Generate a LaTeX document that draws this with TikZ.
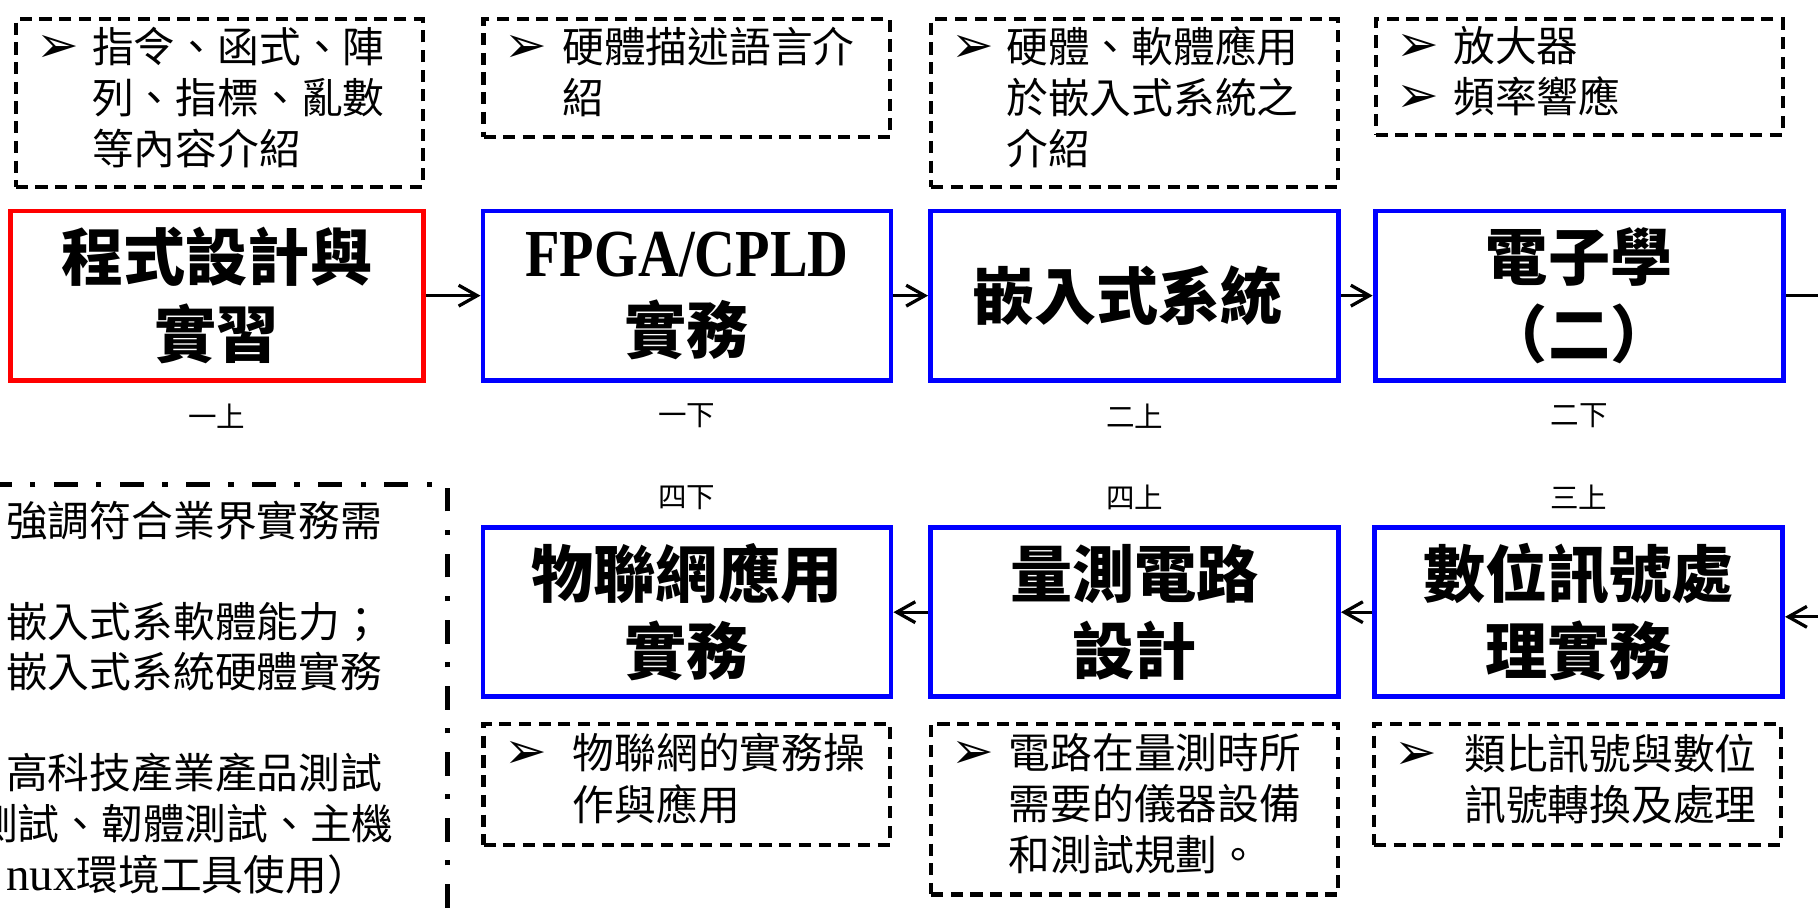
\documentclass[tikz,border=0pt]{standalone}
\usepackage{fontspec}
\setmainfont{Noto Sans CJK TC}
\newfontfamily\symfont{DejaVu Sans}
\newfontfamily\latinfont{Liberation Serif}
\usepackage{graphicx}
\usetikzlibrary{arrows.meta,positioning}

\newcommand{\bul}{{\symfont\fontsize{25}{25}\selectfont ➢}}
\newcommand{\notelines}[2][0.96cm]{\hspace*{0.36cm}\begin{tabular}{@{}p{#1}@{}l@{}}#2\end{tabular}}

\begin{document}
\begin{tikzpicture}[x=0.02cm, y=-0.02cm,
    every node/.style={inner sep=0pt},
    course/.style={
        rectangle,
        draw=blue,
        line width=2.4pt,
        minimum width=7.04cm,
        minimum height=2.92cm,
        align=center,
        font=\fontsize{30.5}{38}\selectfont\bfseries
    },
    notebox/.style={
        rectangle,
        draw,
        line width=2pt,
        dash pattern=on 0.21cm off 0.13cm,
        text width=7.02cm,
        align=left,
        font=\fontsize{20.5}{25}\selectfont
    },
    term/.style={font=\fontsize{14}{16}\selectfont},
    link/.style={-{Straight Barb[length=3.2mm, width=3.6mm]}, line width=1.6pt}
]
    \useasboundingbox (0,0) rectangle (1568,787);

    \node (prog) [course, draw=red, minimum width=7.12cm] at (187,255)
    {
        程式設計與\\實習
    };
    \node (fpga) [course] at (592.5,255)
    {
        {\latinfont\fontsize{33}{38}\selectfont\scalebox{0.84}[1]{FPGA/CPLD}}\\實務
    };
    \node (embedded) [course] at (978.5,255)
    {
        嵌入式系統
    };
    \node (electronics) [course] at (1362,255)
    {
        電子學\\（二）
    };
    \node (iot) [course] at (592.5,528)
    {
        物聯網應用\\實務
    };
    \node (measure) [course] at (978.5,528)
    {
        量測電路\\設計
    };
    \node (dsp) [course] at (1361.5,528)
    {
        數位訊號處\\理實務
    };

    \node (sem_1a) [term, below=0.36cm of prog] {一上};
    \node (sem_1b) [term, below=0.36cm of fpga] {一下};
    \node (sem_2a) [term, below=0.36cm of embedded] {二上};
    \node (sem_2b) [term, below=0.36cm of electronics] {二下};
    \node (sem_4b) [term, above=0.26cm of iot] {四下};
    \node (sem_4a) [term, above=0.26cm of measure] {四上};
    \node (sem_3a) [term, above=0.26cm of dsp] {三上};

    \node (note_prog) [notebox, minimum height=2.9cm] at (189,89)
    {
        \notelines{\bul & 指令、函式、陣\\ & 列、指標、亂數\\ & 等內容介紹}
    };
    \node (note_fpga) [notebox, minimum height=2.04cm] at (592.5,67.5)
    {
        \notelines[1.0cm]{\bul & 硬體描述語言介\\ & 紹}
    };
    \node (note_embedded) [notebox, minimum height=2.9cm] at (978.5,89)
    {
        \notelines[0.94cm]{\bul & 硬體、軟體應用\\ & 於嵌入式系統之\\ & 介紹}
    };
    \node (note_electronics) [notebox, minimum height=2.0cm] at (1362,66.5)
    {
        \notelines[0.98cm]{\bul & 放大器\\ \bul & 頻率響應}
    };
    \node (note_iot) [notebox, minimum height=2.08cm] at (592.5,676.5)
    {
        \notelines[1.18cm]{\bul & 物聯網的實務操\\ & 作與應用}
    };
    \node (note_measure) [notebox, minimum height=2.94cm] at (978.5,698)
    {
        \notelines[0.98cm]{\bul & 電路在量測時所\\ & 需要的儀器設備\\ & 和測試規劃。}
    };
    \node (note_dsp) [notebox, minimum height=2.08cm] at (1360.5,676.5)
    {
        \notelines[1.2cm]{\bul & 類比訊號與數位\\ & 訊號轉換及處理}
    };

    \node (goal_frame) [rectangle, draw, line width=2.4pt,
        dash pattern=on 0.41cm off 0.32cm on 0.09cm off 0.32cm,
        minimum width=8.92cm, minimum height=8.64cm] at (163,634) {};
    \node (goal_text) [anchor=base west, font=\fontsize{20.5}{24.7}\selectfont] at (5,463)
    {
        \begin{tabular}[t]{@{}l@{}}
            強調符合業界實務需\\
            \\
            嵌入式系軟體能力；\\
            嵌入式系統硬體實務\\
            \\
            高科技產業產品測試\\
            \hspace*{0.2cm}\llap{測}試、韌體測試、主機\\
            {\latinfont\fontsize{23}{24.7}\selectfont nux}環境工具使用）
        \end{tabular}
    };

    \coordinate (top_exit) at (1600,255);
    \coordinate (bottom_entry) at (1600,532);
    \draw[link] (prog) -- (fpga);
    \draw[link] (fpga) -- (embedded);
    \draw[link] (embedded) -- (electronics);
    \draw[line width=1.6pt] (electronics) -- (top_exit);
    \draw[link] (bottom_entry) -- (bottom_entry -| dsp.east);
    \draw[link] (dsp) -- (measure);
    \draw[link] (measure) -- (iot);
\end{tikzpicture}
\end{document}
